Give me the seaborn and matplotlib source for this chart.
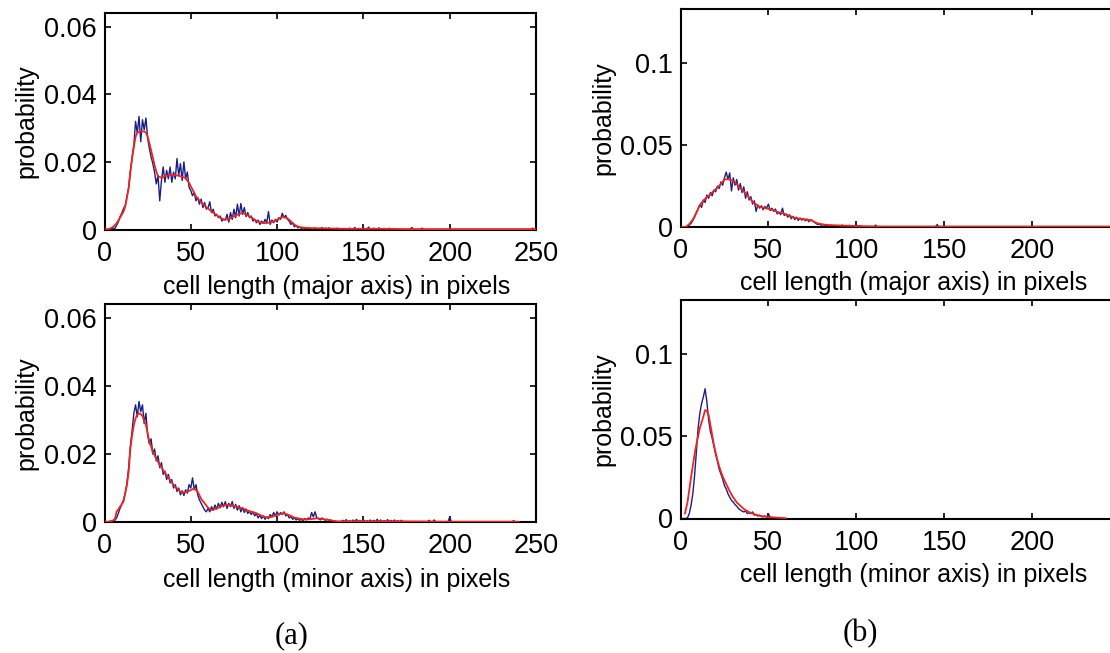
import numpy as np
import pandas as pd
import matplotlib
matplotlib.use("Agg")
import matplotlib.pyplot as plt
import seaborn as sns

# ---------------- data ----------------
# (a) major axis: histogram (1-pixel bins from 0) and fitted curve
a_major_hist = [
    0, 0, 0, 0.0002, 0.0002,
    0.0004, 0.0003, 0.0012, 0.0022, 0.0038,
    0.0048, 0.0062, 0.0070, 0.0098, 0.0125,
    0.0175, 0.0215, 0.0250, 0.0320, 0.0285,
    0.0335, 0.0260, 0.0325, 0.0295, 0.0330,
    0.0270, 0.0240, 0.0215, 0.0195, 0.0170,
    0.0135, 0.0160, 0.0085, 0.0145, 0.0185,
    0.0140, 0.0175, 0.0150, 0.0185, 0.0140,
    0.0170, 0.0150, 0.0210, 0.0160, 0.0195,
    0.0145, 0.0200, 0.0150, 0.0170, 0.0125,
    0.0115, 0.0100, 0.0110, 0.0085, 0.0095,
    0.0075, 0.0090, 0.0065, 0.0080, 0.0060,
    0.0065, 0.0082, 0.0050, 0.0060, 0.0040,
    0.0045, 0.0035, 0.0040, 0.0025, 0.0030,
    0.0028, 0.0045, 0.0022, 0.0050, 0.0030,
    0.0060, 0.0035, 0.0075, 0.0040, 0.0077,
    0.0045, 0.0065, 0.0038, 0.0050, 0.0035,
    0.0040, 0.0025, 0.0030, 0.0020, 0.0028,
    0.0015, 0.0025, 0.0018, 0.0030, 0.0020,
    0.0053, 0.0015, 0.0028, 0.0020, 0.0030,
    0.0022, 0.0035, 0.0030, 0.0048, 0.0035,
    0.0042, 0.0030, 0.0025, 0.0015, 0.0020,
    0.0008, 0.0012, 0.0005, 0.0008, 0.0003,
    0.0006, 0.0002, 0.0005, 0.0003, 0.0004,
    0.0002,
]
a_major_tail_x = [122, 124, 126, 128, 130, 133, 135, 142, 145, 147,
                  150, 153, 156, 159, 162, 165, 178, 184, 248]
a_major_tail_y = [0.0005, 0.0003, 0.0006, 0.0004, 0.0005, 0.0003, 0.0004,
                  0.0004, 0.0006, 0.0003, 0.0005, 0.0007, 0.0004, 0.0005,
                  0.0003, 0.0004, 0.0006, 0.0004, 0.0004]
a_major_fit_x = [0, 3, 5, 7, 9, 11,
                 12, 13, 14, 15, 16, 17, 18, 19,
                 21,
                 23, 24, 25, 26, 27, 28, 29, 30, 31,
                 33, 35, 38, 41, 44, 47, 49, 50, 51,
                 53, 55, 57, 59, 61, 63, 65, 67, 69, 71,
                 73, 75, 77, 79, 81, 83, 85, 87, 89, 91,
                 93, 95, 97, 99, 101, 103, 105, 107, 109, 111, 113,
                 116, 120, 130, 140, 160, 180, 250]
a_major_fit_y = [0, 0.0002, 0.0008, 0.0018, 0.0035, 0.0053,
                 0.0068, 0.0095, 0.0122, 0.017, 0.021, 0.0245, 0.0274, 0.0287,
                 0.0291,
                 0.029, 0.0287, 0.0275, 0.0255, 0.0235, 0.0213, 0.019, 0.0172, 0.0158,
                 0.0153, 0.0158, 0.0162, 0.0161, 0.0158, 0.0152, 0.0138, 0.0128, 0.0118,
                 0.0098, 0.0086, 0.0075, 0.0066, 0.0058, 0.005, 0.0042, 0.0035, 0.003, 0.003,
                 0.0033, 0.0039, 0.0044, 0.0048, 0.0047, 0.0042, 0.0036, 0.0029, 0.0023, 0.002,
                 0.0019, 0.002, 0.0022, 0.0026, 0.0032, 0.0037, 0.0035, 0.0029, 0.0019, 0.0011, 0.0007,
                 0.0005, 0.0004, 0.0003, 0.0002, 0.0002, 0.0001, 0.0001]

# (a) minor axis
a_minor_hist = [
    0, 0, 0, 0.0002, 0.0003,
    0.0002, 0.0005, 0.0012, 0.0025, 0.0040,
    0.0052, 0.0065, 0.0085, 0.0115, 0.0160,
    0.0225, 0.0270, 0.0320, 0.0345, 0.0310,
    0.0355, 0.0325, 0.0345, 0.0290, 0.0320,
    0.0255, 0.0230, 0.0245, 0.0200, 0.0215,
    0.0180, 0.0195, 0.0160, 0.0175, 0.0140,
    0.0150, 0.0125, 0.0140, 0.0115, 0.0125,
    0.0100, 0.0110, 0.0090, 0.0100, 0.0080,
    0.0092, 0.0078, 0.0095, 0.0085, 0.0110,
    0.0100, 0.0130, 0.0095, 0.0110, 0.0080,
    0.0065, 0.0055, 0.0045, 0.0035, 0.0030,
    0.0040, 0.0030, 0.0045, 0.0035, 0.0050,
    0.0038, 0.0055, 0.0042, 0.0058, 0.0045,
    0.0060, 0.0040, 0.0055, 0.0045, 0.0060,
    0.0040, 0.0052, 0.0035, 0.0048, 0.0030,
    0.0042, 0.0028, 0.0038, 0.0025, 0.0032,
    0.0022, 0.0030, 0.0018, 0.0025, 0.0012,
    0.0020, 0.0010, 0.0018, 0.0008, 0.0015,
    0.0010, 0.0022, 0.0015, 0.0028, 0.0018,
    0.0030, 0.0020, 0.0028, 0.0022, 0.0030,
    0.0018, 0.0022, 0.0012, 0.0016, 0.0008,
    0.0012, 0.0006, 0.0010, 0.0005, 0.0008,
    0.0004, 0.0010, 0.0006, 0.0012, 0.0008,
    0.0028, 0.0015, 0.0030, 0.0012, 0.0010,
    0.0006, 0.0012, 0.0008, 0.0005, 0.0008,
    0.0004, 0.0006, 0.0002, 0.0003, 0,
    0,
]
a_minor_tail_x = [138, 140, 142, 144, 146, 148, 150, 152, 154, 156, 158,
                  160, 162, 164, 166, 168, 170, 172, 188, 191, 200, 237]
a_minor_tail_y = [0.0005, 0.0007, 0.0004, 0.0006, 0.0008, 0.0005, 0.0007,
                  0.0004, 0.0006, 0.0005, 0.0008, 0.0006, 0.0004, 0.0007,
                  0.0005, 0.0006, 0.0004, 0.0005, 0.0005, 0.0006, 0.0015, 0.0004]
a_minor_fit_x = [0, 4, 6, 7, 9, 11,
                 13, 14, 15, 16, 17, 18, 19, 20, 21, 22, 23, 24, 25, 26, 27, 28,
                 30, 32, 34, 36, 38, 40, 42, 44, 46, 48,
                 50, 52, 54, 56, 58, 60, 62, 64, 66, 68,
                 70, 72, 74, 76, 78, 80, 82, 84, 86, 88,
                 90, 92, 94, 96, 98, 100, 102, 104, 106, 108,
                 110, 112,
                 115, 119, 123, 126, 129, 132, 135, 150, 175, 200, 240]
a_minor_fit_y = [0, 0.0002, 0.0008, 0.003, 0.0045, 0.006,
                 0.0109, 0.0148, 0.0217, 0.0255, 0.0286, 0.0305, 0.0316, 0.032,
                 0.0318, 0.0312, 0.0298, 0.0286, 0.0262, 0.0237, 0.0222, 0.0205,
                 0.0187, 0.0168, 0.0153, 0.0138, 0.0124, 0.0109, 0.0099, 0.0089, 0.0087, 0.0089,
                 0.0094, 0.0099, 0.0089, 0.0068, 0.0055, 0.0042, 0.0035, 0.0038, 0.0042, 0.0047,
                 0.005, 0.005, 0.0048, 0.0046, 0.0043, 0.004, 0.0036, 0.0032, 0.0029, 0.0026,
                 0.0021, 0.0016, 0.0014, 0.0014, 0.0017, 0.0021, 0.0024, 0.0026, 0.0022, 0.0018,
                 0.0013, 0.0011,
                 0.0008, 0.0008, 0.0011, 0.0009, 0.0007, 0.0004, 0.0002, 0.0002, 0.0002, 0.0001, 0.0001]

# (b) major axis
b_major_hist = [
    0, 0, 0, 0.0002, 0.0005,
    0.0012, 0.0022, 0.0040, 0.0060, 0.0090,
    0.0110, 0.0135, 0.0120, 0.0165, 0.0150,
    0.0195, 0.0175, 0.0210, 0.0190, 0.0225,
    0.0215, 0.0250, 0.0235, 0.0275, 0.0255,
    0.0300, 0.0335, 0.0290, 0.0330, 0.0220,
    0.0300, 0.0255, 0.0290, 0.0225, 0.0265,
    0.0210, 0.0245, 0.0175, 0.0215, 0.0165,
    0.0185, 0.0140, 0.0160, 0.0095, 0.0135,
    0.0115, 0.0130, 0.0105, 0.0125, 0.0115,
    0.0140, 0.0100, 0.0115, 0.0095, 0.0110,
    0.0080, 0.0090, 0.0075, 0.0115, 0.0070,
    0.0080, 0.0060, 0.0075, 0.0050, 0.0065,
    0.0045, 0.0060, 0.0040, 0.0055, 0.0042,
    0.0050, 0.0038, 0.0048, 0.0032, 0.0045,
    0.0040, 0.0030, 0.0022, 0.0015, 0.0018,
    0.0010, 0.0016, 0.0008, 0.0012, 0.0010,
    0.0005, 0.0012, 0.0006, 0.0010, 0.0004,
    0.0010, 0.0005, 0.0012, 0.0004, 0.0008,
    0.0006, 0.0010, 0.0004, 0.0008, 0.0005,
    0.0009, 0.0004, 0.0007, 0.0003, 0.0002,
]
b_major_tail_x = [111, 146]
b_major_tail_y = [0.0012, 0.0015]
b_major_fit_x = [0, 3,
                 5, 7, 9, 11, 13, 15, 17, 19, 21, 23,
                 25, 27, 29, 31, 33, 35, 37, 39, 41, 43,
                 45, 47, 49, 51, 53, 55,
                 58, 62, 66, 70, 74, 78, 82, 86, 90, 97, 105, 115, 250]
b_major_fit_y = [0, 0,
                 0.0018, 0.0045, 0.0085, 0.0135, 0.016, 0.0182, 0.0198, 0.0222, 0.024, 0.0262,
                 0.029, 0.0292, 0.0285, 0.0272, 0.0248, 0.0228, 0.0205, 0.018, 0.0155, 0.0138,
                 0.0124, 0.0118, 0.0113, 0.0108, 0.0103, 0.0092,
                 0.0084, 0.0068, 0.0053, 0.0048, 0.0042, 0.0022, 0.0014, 0.0011, 0.0009,
                 0.0007, 0.0005, 0.0003, 0.0003]

# (b) minor axis
b_minor_hist = [
    0, 0, 0, 0, 0.0005,
    0.003, 0.008, 0.015, 0.026, 0.040,
    0.055, 0.064, 0.070, 0.074, 0.079,
    0.071, 0.060, 0.053, 0.049, 0.044,
    0.039, 0.035, 0.030, 0.027, 0.024,
    0.020, 0.018, 0.015, 0.013, 0.011,
    0.010, 0.0085, 0.0075, 0.0060, 0.0052,
    0.0045, 0.0040, 0.0045, 0.0030, 0.0035,
    0.0030, 0.0040, 0.0020, 0.0025, 0.0015,
    0.0020, 0.0012, 0.0010, 0.0015, 0.0008,
    0.0030, 0.0008, 0.0005, 0.0003, 0.0002,
    0,
]
b_minor_tail_x = []
b_minor_tail_y = []
b_minor_fit_x = [2.5, 4,
                 5, 6, 7, 8, 9, 10, 11, 12, 13, 14,
                 15, 16, 17, 18, 19, 20, 21, 22, 23, 24,
                 26, 28, 30, 32, 34, 36, 38, 40,
                 43, 46, 50, 55, 60]
b_minor_fit_y = [0.003, 0.010,
                 0.0175, 0.025, 0.032, 0.039, 0.045, 0.050, 0.055, 0.0585, 0.062, 0.066,
                 0.0655, 0.063, 0.057, 0.051, 0.045, 0.040, 0.0355, 0.0317, 0.0285, 0.0255,
                 0.021, 0.0165, 0.0128, 0.0098, 0.0078, 0.0058, 0.0045, 0.0034,
                 0.0022, 0.0015, 0.0009, 0.0005, 0.0002]

x_ticks = [0, 50, 100, 150, 200, 250]
left_y_ticks = [0, 0.02, 0.04, 0.06]
left_y_labels = ["0", "0.02", "0.04", "0.06"]
right_y_ticks = [0, 0.05, 0.1]
right_y_labels = ["0", "0.05", "0.1"]
major_label = "cell length (major axis) in pixels"
minor_label = "cell length (minor axis) in pixels"


def hist_frame(main, tail_x, tail_y, last):
    y = np.zeros(last + 1)
    y[:len(main)] = main
    if len(tail_x):
        y[np.asarray(tail_x)] = tail_y
    return pd.DataFrame({"length": np.arange(last + 1), "probability": y})


def fit_frame(xs, ys):
    return pd.DataFrame({"length": xs, "probability": ys})


# ---------------- style ----------------
sns.set_theme(style="ticks")
plt.rcParams["font.family"] = ["Liberation Sans", "DejaVu Sans"]

W, H = 1110, 653
fig = plt.figure(figsize=(W / 100, H / 100), dpi=100)
fig.patch.set_facecolor("white")

BLUE = "#1a1f84"
RED = "#f0241c"


def px_axes(left, top, right, bottom):
    return fig.add_axes([left / W, (H - bottom) / H, (right - left) / W, (bottom - top) / H])


panels = [
    dict(box=(104.5, 13, 536, 229.5),
         hist=hist_frame(a_major_hist, a_major_tail_x, a_major_tail_y, 250),
         fit=fit_frame(a_major_fit_x, a_major_fit_y),
         ylim=0.0641, yt=left_y_ticks, yl=left_y_labels, xlabel=major_label,
         xl=(0.539, -0.266), yx=-0.182, xtl=["0", "50", "100", "150", "200", "250"]),
    dict(box=(104.5, 304, 536, 522),
         hist=hist_frame(a_minor_hist, a_minor_tail_x, a_minor_tail_y, 240),
         fit=fit_frame(a_minor_fit_x, a_minor_fit_y),
         ylim=0.0642, yt=left_y_ticks, yl=left_y_labels, xlabel=minor_label,
         xl=(0.539, -0.266), yx=-0.182, xtl=["0", "50", "100", "150", "200", "250"]),
    dict(box=(680.5, 9, 1120, 227),
         hist=hist_frame(b_major_hist, b_major_tail_x, b_major_tail_y, 150),
         fit=fit_frame(b_major_fit_x, b_major_fit_y),
         ylim=0.133, yt=right_y_ticks, yl=right_y_labels, xlabel=major_label,
         xl=(0.531, -0.257), yx=-0.175, xtl=["0", "50", "100", "150", "200", ""]),
    dict(box=(680.5, 300, 1120, 518.5),
         hist=hist_frame(b_minor_hist, b_minor_tail_x, b_minor_tail_y, 55),
         fit=fit_frame(b_minor_fit_x, b_minor_fit_y),
         ylim=0.133, yt=right_y_ticks, yl=right_y_labels, xlabel=minor_label,
         xl=(0.531, -0.259), yx=-0.175, xtl=["0", "50", "100", "150", "200", ""]),
]

for p in panels:
    ax = px_axes(*p["box"])
    ax.set_facecolor("white")
    # raw histogram as a thin jagged line, smooth fit drawn on top
    sns.lineplot(data=p["hist"], x="length", y="probability", ax=ax, color=BLUE,
                 lw=1.0, estimator=None, zorder=2)
    sns.lineplot(data=p["fit"], x="length", y="probability", ax=ax, color=RED,
                 lw=1.3, estimator=None, zorder=3)
    ax.set_xlim(0, 250)
    ax.set_ylim(0, p["ylim"])
    ax.set_xticks(x_ticks)
    ax.set_xticklabels(p["xtl"])
    ax.set_yticks(p["yt"])
    ax.set_yticklabels(p["yl"])
    for s in ax.spines.values():
        s.set_visible(True)
        s.set_linewidth(1.5)
        s.set_color("black")
        s.set_zorder(2.5)
    ax.tick_params(axis="both", direction="in", top=True, right=True, length=4.5,
                   width=1.2, color="black", labelsize=19.5, labelcolor="black")
    ax.tick_params(axis="x", pad=8)
    ax.tick_params(axis="y", pad=5.5)
    ax.set_xlabel(p["xlabel"], fontsize=18, color="black")
    ax.xaxis.set_label_coords(*p["xl"])
    ax.xaxis.label.set_va("center")
    ax.set_ylabel("probability", fontsize=18, color="black")
    ax.yaxis.set_label_coords(p["yx"], 0.5)
    ax.yaxis.label.set_va("center")
    ax.grid(False)

fig.text(292 / W, 1 - 636 / H, "(a)", ha="center", va="center",
         fontsize=22, family=["Liberation Serif", "DejaVu Serif"], color="black")
fig.text(860 / W, 1 - 634 / H, "(b)", ha="center", va="center",
         fontsize=22, family=["Liberation Serif", "DejaVu Serif"], color="black")

fig.savefig("out.png", dpi=100, facecolor="white")
